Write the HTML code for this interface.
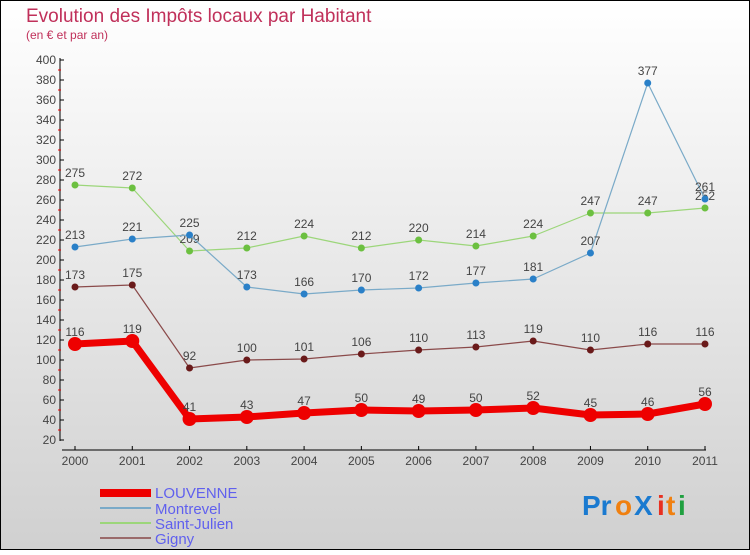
<!DOCTYPE html>
<html><head><meta charset="utf-8"><style>
body{margin:0}
#c{width:750px;height:550px;position:relative;font-family:"Liberation Sans",sans-serif}
svg text{font-family:"Liberation Sans",sans-serif}
</style></head><body>
<div id="c">
<svg id="s" width="750" height="550" xmlns="http://www.w3.org/2000/svg">
<defs><linearGradient id="bg" x1="0" y1="0" x2="0" y2="1"><stop offset="0" stop-color="#ffffff"/><stop offset="1" stop-color="#d0d0d0"/></linearGradient></defs>
<rect x="0.5" y="0.5" width="749" height="549" fill="url(#bg)" stroke="#000"/>
<text x="26" y="22" font-size="19" fill="#c0305a">Evolution des Impôts locaux par Habitant</text>
<text x="26" y="39" font-size="12" fill="#c0305a">(en € et par an)</text>
<g id="axes"></g><g id="series"></g>
<g>
<rect x="100" y="489" width="51" height="8" fill="#e00"/>
<text x="155" y="498" font-size="15" fill="#6060ee">LOUVENNE</text>
<rect x="100" y="507" width="51" height="2" fill="#7aaac8"/>
<text x="155" y="514" font-size="15" fill="#6060ee">Montrevel</text>
<rect x="100" y="522" width="51" height="2" fill="#9cd67a"/>
<text x="155" y="529" font-size="15" fill="#6060ee">Saint-Julien</text>
<rect x="100" y="537" width="51" height="2" fill="#9a6a6a"/>
<text x="155" y="544" font-size="15" fill="#6060ee">Gigny</text>
</g>
<g font-size="28" font-weight="bold">
<text x="582" y="515" fill="#1a7ad0">Pr</text><text x="615" y="515" fill="#f08010">o</text><text x="634" y="515" fill="#1a7ad0">X</text><text x="657" y="515" fill="#e83020">i</text><text x="666" y="515" fill="#f08010">t</text><text x="678" y="515" fill="#20a040">i</text>
</g>
</svg></div>
<script>
const years=["2000","2001","2002","2003","2004","2005","2006","2007","2008","2009","2010","2011"];
const louvenne=[116,119,41,43,47,50,49,50,52,45,46,56];
const montrevel=[213,221,225,173,166,170,172,177,181,207,377,261];
const saintJulien=[275,272,209,212,224,212,220,214,224,247,247,252];
const gigny=[173,175,92,100,101,106,110,113,119,110,116,116];
const yTicks=[20,40,60,80,100,120,140,160,180,200,220,240,260,280,300,320,340,360,380,400];
const NS="http://www.w3.org/2000/svg";
const xS=i=>75+i*(630/11);
const yS=v=>60+(400-v);
function mk(t,a,p){const e=document.createElementNS(NS,t);for(const k in a)e.setAttribute(k,a[k]);p.appendChild(e);return e;}
const ax=document.getElementById('axes');
const yl=mk('line',{x1:60,y1:58,x2:60,y2:441,stroke:'#000'},ax);


yTicks.forEach(v=>{
  mk('line',{x1:60,y1:yS(v),x2:64,y2:yS(v),stroke:'#000'},ax);
  if(v<400) mk('line',{x1:58,y1:yS(v+10),x2:61,y2:yS(v+10),stroke:'#e00'},ax);
  const t=mk('text',{x:56,y:yS(v)+4,'font-size':12,'text-anchor':'end',fill:'#444'},ax);
  t.textContent=v;
  
  
});
const xl=mk('line',{x1:62,y1:450,x2:706,y2:450,stroke:'#000'},ax);


years.forEach((y,i)=>{
  mk('line',{x1:xS(i),y1:446,x2:xS(i),y2:450,stroke:'#000'},ax);
  const t=mk('text',{x:xS(i),y:465,'font-size':12,'text-anchor':'middle',fill:'#444'},ax);
  t.textContent=y;
  
  
});
const sg=document.getElementById('series');
function series(d,name,col,dot,w,r){
  const g=mk('g',{},sg);
  
  
  mk('polyline',{points:d.map((v,i)=>xS(i)+','+yS(v)).join(' '),fill:'none',stroke:col,'stroke-width':w,'stroke-linejoin':'round'},g);
  d.forEach((v,i)=>{
    const c=mk('circle',{cx:xS(i),cy:yS(v),r:r,fill:dot},g);
    
    
    const t=mk('text',{x:xS(i),y:yS(v)-8,'font-size':12,'text-anchor':'middle',fill:'#444'},g);
    t.textContent=v;
    
    
  });
}
series(gigny,'gigny','#8a4a4a','#6a1a1a',1.2,3.5);
series(saintJulien,'saint-julien','#9cd67a','#6cc040',1.2,3.5);
series(montrevel,'montrevel','#7aaac8','#2a80c8',1.2,3.5);
series(louvenne,'louvenne','#ee0000','#ee0000',7,7);
</script>
</body></html>
